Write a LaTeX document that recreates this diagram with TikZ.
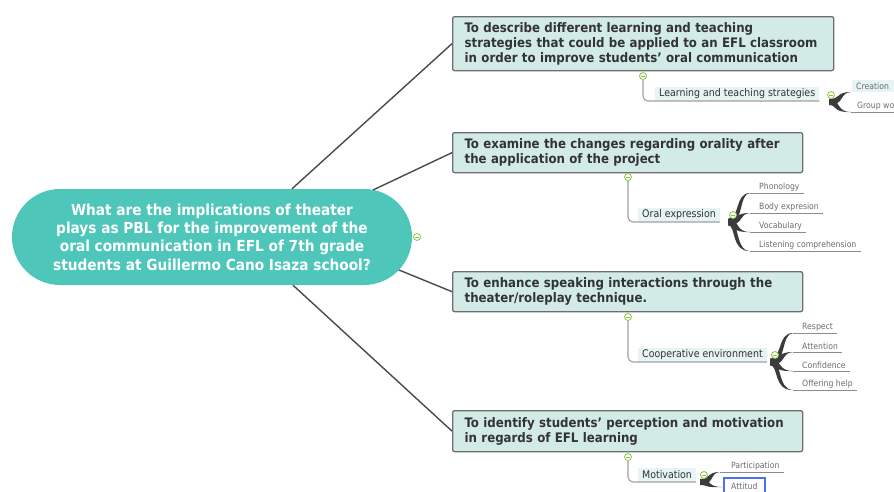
\documentclass[tikz,border=0pt]{standalone}
\usepackage{fontspec}
\setmainfont{DejaVu Sans}
\newfontfamily\cond{DejaVu Sans Condensed}
\usetikzlibrary{calc}
\definecolor{rootc}{HTML}{4EC6BA}
\definecolor{objfill}{HTML}{D2EBE7}
\definecolor{objdraw}{HTML}{6E6E6E}
\definecolor{objtext}{HTML}{333333}
\definecolor{conn}{HTML}{4A4A4A}
\definecolor{subc}{HTML}{A0A0A0}
\definecolor{labfill}{HTML}{E6F4F4}
\definecolor{leaftext}{HTML}{6E6A76}
\definecolor{leafc}{HTML}{8C8C8C}
\definecolor{brc}{HTML}{3C3C3C}
\definecolor{togc}{HTML}{8CC63F}
\definecolor{selc}{HTML}{4A72F0}
\newcommand\brch[3][3pt]{%
  \fill[brc] let \p1=(#2), \p2=(#3) in
   (\x1,{\y1+#1}) .. controls ({\x1+0.55*(\x2-\x1)},{\y1+#1}) and ({\x1+0.3*(\x2-\x1)},\y2) .. (\p2)
   .. controls ({\x1+0.3*(\x2-\x1)+1.2*#1*sign(\y2-\y1)},{\y2-0.7pt}) and ({\x1+0.55*(\x2-\x1)+1.2*#1*sign(\y2-\y1)},{\y1-#1}) .. (\x1,{\y1-#1}) -- cycle;}
\tikzset{
  rootbox/.style={fill=rootc, text=white, font=\cond\bfseries\fontsize{15.2}{18.3}\selectfont,
    align=center, minimum width=400pt, minimum height=96pt, rounded corners=48pt, inner sep=0pt},
  objbox/.style={fill=objfill, draw=objdraw, line width=1.3pt, rounded corners=2pt, text=objtext,
    font=\cond\bfseries\fontsize{13.1}{15}\selectfont, align=left, anchor=north west,
    inner xsep=12pt, inner ysep=0pt},
  rootline/.style={draw=conn, line width=1.4pt},
  subline/.style={draw=subc, line width=1.1pt, rounded corners=5pt},
  lab/.style={fill=labfill, text=objtext, font=\cond\fontsize{10.5}{11}\selectfont,
    anchor=south west, inner xsep=4pt, inner ysep=0pt, minimum height=14pt},
  leaf/.style={text=leaftext, font=\cond\fontsize{8.6}{9}\selectfont, anchor=south west,
    inner xsep=4pt, inner ysep=0pt, minimum height=12pt},
  leafline/.style={draw=leafc, line width=0.9pt},
  selbox/.style={draw=selc, line width=1.6pt, fill=white, anchor=north west, minimum height=16pt,
    minimum width=41pt, text=leaftext, font=\cond\fontsize{8.6}{9}\selectfont, inner xsep=4pt, inner ysep=0pt},
  tog/.style={circle, draw=togc, fill=white, line width=0.8pt, minimum size=7pt, inner sep=0pt,
    path picture={\draw[togc, line width=0.7pt] ([xshift=1.6pt]path picture bounding box.west) -- ([xshift=-1.6pt]path picture bounding box.east);}}
}
\begin{document}
\begin{tikzpicture}[x=1pt,y=-1pt]
\useasboundingbox (0,0) rectangle (894,491);
% root
\node[rootbox] (root) at (212,237) {What are the implications of theater\\plays as PBL for the improvement of the\\oral communication in EFL of 7th grade\\students at Guillermo Cano Isaza school?};
\node[tog] (c0) at (417,237) {};
% objectives
\node[objbox, minimum width=381pt, minimum height=54pt, text width=357pt] (o1) at (452,16)
  {To describe different learning and teaching\\strategies that could be applied to an EFL classroom\\in order to improve students’ oral communication};
\node[objbox, minimum width=350pt, minimum height=40pt, text width=326pt] (o2) at (452,132)
  {To examine the changes regarding orality after\\the application of the project};
\node[objbox, minimum width=350pt, minimum height=40pt, text width=326pt] (o3) at (452,271)
  {To enhance speaking interactions through the\\theater/roleplay technique.};
\node[objbox, minimum width=350pt, minimum height=41pt, text width=326pt] (o4) at (452,410)
  {To identify students’ perception and motivation\\in regards of EFL learning};
% root connectors
\coordinate (r1) at ($(root.north)+(80,0)$);
\coordinate (r2) at (373,190);
\coordinate (r3) at (399,270);
\coordinate (r4) at ($(root.south)+(81,0)$);
\draw[rootline] (r1) -- (o1.west);
\draw[rootline] (r2) -- (o2.west);
\draw[rootline] (r3) -- (o3.west);
\draw[rootline] (r4) -- (o4.west);
% subtopic labels
\node[lab] (l1) at (655,101) {Learning and teaching strategies};
\node[lab] (l2) at (638,222) {Oral expression};
\node[lab] (l3) at (638,362) {Cooperative environment};
\node[lab] (l4) at (638,482) {Motivation};
% toggles under objectives
\node[tog] (t1) at (643,76) {};
\node[tog] (t2) at (628,177) {};
\node[tog] (t3) at (628,317) {};
\node[tog] (t4) at (628,457) {};
\draw[subline] (t1.south) |- (l1.south east);
\draw[subline] (t2.south) |- (l2.south east);
\draw[subline] (t3.south) |- (l3.south east);
\draw[subline] (t4.south) |- (l4.south east);
% hubs
\coordinate (h1) at (829,102);
\coordinate (h2) at (728,222);
\coordinate (h3) at (770,362);
\coordinate (h4) at (700,482);
% leaf ends
\coordinate (e11) at (851,92);
\coordinate (e12) at (851,112);
\coordinate (e21) at (750,193);
\coordinate (e22) at (750,213);
\coordinate (e23) at (750,232);
\coordinate (e24) at (750,251);
\coordinate (e31) at (793,333);
\coordinate (e32) at (793,352);
\coordinate (e33) at (793,371);
\coordinate (e34) at (793,390);
\coordinate (e41) at (720,472);
\coordinate (e42) at (722,487);
\brch{h1}{e11}\brch{h1}{e12}
\brch[3.2pt]{h2}{e21}\brch[3.2pt]{h2}{e22}\brch[3.2pt]{h2}{e23}\brch[3.2pt]{h2}{e24}
\brch[3.2pt]{h3}{e31}\brch[3.2pt]{h3}{e32}\brch[3.2pt]{h3}{e33}\brch[3.2pt]{h3}{e34}
\brch{h4}{e41}\brch{h4}{e42}
% leaves
\node[leaf, fill=labfill, minimum height=12pt, minimum width=46pt, align=left, text width=38pt] (f11) at (852,92) {Creation};
\node[leaf] (f12) at (853,112) {Group work};
\draw[leafline] (e12) -- (f12.south east);
\node[leaf] (f21) at (755,193) {Phonology};
\node[leaf] (f22) at (755,213) {Body expresion};
\node[leaf] (f23) at (755,232) {Vocabulary};
\node[leaf] (f24) at (755,251) {Listening comprehension};
\node[leaf] (f31) at (798,333) {Respect};
\node[leaf] (f32) at (798,352) {Attention};
\node[leaf] (f33) at (798,371) {Confidence};
\node[leaf] (f34) at (798,390) {Offering help};
\node[leaf] (f41) at (727,472) {Participation};
\foreach \i in {21,22,23,24,31,32,33,34,41}{\draw[leafline] (e\i) -- (f\i.south east);}
\node[selbox] (f42) at (723,477) {Attitud};
% toggles on subtopics
\node[tog] (s1) at (831,95) {};
\node[tog] (s2) at (733,215) {};
\node[tog] (s3) at (775,355) {};
\node[tog] (s4) at (704,475) {};
\end{tikzpicture}
\end{document}
